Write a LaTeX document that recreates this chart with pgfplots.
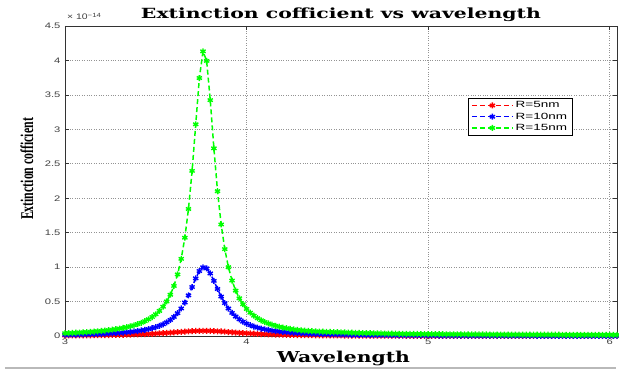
\documentclass[border=0pt]{standalone}
\usepackage{fontspec}
\setmainfont{Liberation Sans}
\newfontfamily\titlefont{DejaVu Serif}
\newfontfamily\ylabfont{Liberation Serif}
\usepackage{graphicx}
\usepackage{pgfplots}
\usepackage{pgfplotstable}
\pgfplotsset{compat=1.18}

\pgfplotstableread{
x g b r
3.00 0.0406 0.0175 0.00724
3.02 0.0427 0.0184 0.00759
3.04 0.0451 0.0194 0.00797
3.06 0.0477 0.0205 0.00838
3.08 0.0505 0.0217 0.00882
3.10 0.0535 0.0230 0.00929
3.12 0.0568 0.0244 0.00980
3.14 0.0605 0.0259 0.01034
3.16 0.0645 0.0276 0.01094
3.18 0.0689 0.0295 0.01158
3.20 0.0738 0.0316 0.01228
3.22 0.0792 0.0338 0.01304
3.24 0.0852 0.0364 0.01386
3.26 0.0919 0.0392 0.01476
3.28 0.0995 0.0424 0.01575
3.30 0.1080 0.0459 0.01682
3.32 0.1176 0.0499 0.01799
3.34 0.1286 0.0545 0.01928
3.36 0.1412 0.0597 0.02070
3.38 0.1557 0.0656 0.02225
3.40 0.1725 0.0725 0.02395
3.42 0.1920 0.0804 0.02583
3.44 0.2151 0.0897 0.02788
3.46 0.2427 0.1006 0.03014
3.48 0.2756 0.1136 0.03262
3.50 0.3154 0.1291 0.03533
3.52 0.3643 0.1478 0.03827
3.54 0.4250 0.1705 0.04144
3.56 0.5014 0.1985 0.04486
3.58 0.5993 0.2333 0.04846
3.60 0.7264 0.2767 0.05224
3.62 0.8944 0.3312 0.05612
3.64 1.1200 0.4000 0.06000
3.66 1.4270 0.4862 0.06375
3.68 1.8440 0.5901 0.06723
3.70 2.3970 0.7112 0.07025
3.72 3.0730 0.8371 0.07265
3.74 3.7450 0.9433 0.07426
3.76 4.1320 0.9976 0.07497
3.78 3.9940 0.9817 0.07473
3.80 3.4240 0.9081 0.07356
3.82 2.7240 0.8000 0.07154
3.84 2.1020 0.6826 0.06881
3.86 1.6190 0.5728 0.06554
3.88 1.2610 0.4778 0.06190
3.90 0.9988 0.3990 0.05807
3.92 0.8044 0.3350 0.05418
3.94 0.6585 0.2832 0.05034
3.96 0.5473 0.2414 0.04663
3.98 0.4610 0.2075 0.04311
4.00 0.3930 0.1797 0.03982
4.02 0.3385 0.1569 0.03676
4.04 0.2945 0.1379 0.03394
4.06 0.2583 0.1221 0.03135
4.08 0.2283 0.1087 0.02898
4.10 0.2031 0.0973 0.02682
4.12 0.1819 0.0876 0.02486
4.14 0.1637 0.0792 0.02308
4.16 0.1482 0.0720 0.02145
4.18 0.1347 0.0657 0.01997
4.20 0.1229 0.0601 0.01862
4.22 0.1127 0.0552 0.01739
4.24 0.1036 0.0509 0.01627
4.26 0.0956 0.0471 0.01524
4.28 0.0885 0.0436 0.01430
4.30 0.0821 0.0406 0.01344
4.32 0.0776 0.0378 0.01265
4.34 0.0737 0.0353 0.01192
4.36 0.0702 0.0330 0.01125
4.38 0.0672 0.0310 0.01064
4.40 0.0646 0.0291 0.01007
4.42 0.0623 0.0274 0.00954
4.44 0.0604 0.0259 0.00905
4.46 0.0586 0.0244 0.00859
4.48 0.0572 0.0231 0.00817
4.50 0.0559 0.0219 0.00778
4.52 0.0536 0.0208 0.00741
4.54 0.0515 0.0198 0.00707
4.56 0.0495 0.0188 0.00675
4.58 0.0477 0.0179 0.00645
4.60 0.0461 0.0171 0.00617
4.62 0.0445 0.0163 0.00591
4.64 0.0430 0.0156 0.00566
4.66 0.0417 0.0149 0.00543
4.68 0.0404 0.0142 0.00521
4.70 0.0392 0.0137 0.00500
4.72 0.0381 0.0131 0.00481
4.74 0.0370 0.0126 0.00463
4.76 0.0360 0.0121 0.00445
4.78 0.0351 0.0116 0.00429
4.80 0.0342 0.0112 0.00413
4.82 0.0333 0.0108 0.00399
4.84 0.0325 0.0104 0.00385
4.86 0.0318 0.0100 0.00372
4.88 0.0311 0.0096 0.00359
4.90 0.0304 0.0093 0.00347
4.92 0.0298 0.0090 0.00336
4.94 0.0292 0.0087 0.00325
4.96 0.0286 0.0084 0.00314
4.98 0.0281 0.0081 0.00305
5.00 0.0276 0.0079 0.00295
5.02 0.0271 0.0076 0.00286
5.04 0.0266 0.0074 0.00278
5.06 0.0262 0.0072 0.00270
5.08 0.0258 0.0069 0.00262
5.10 0.0253 0.0067 0.00254
5.12 0.0250 0.0065 0.00247
5.14 0.0246 0.0064 0.00240
5.16 0.0242 0.0062 0.00233
5.18 0.0239 0.0060 0.00227
5.20 0.0235 0.0058 0.00221
5.22 0.0232 0.0057 0.00215
5.24 0.0229 0.0055 0.00209
5.26 0.0226 0.0054 0.00204
5.28 0.0223 0.0052 0.00199
5.30 0.0221 0.0051 0.00194
5.32 0.0218 0.0050 0.00189
5.34 0.0216 0.0049 0.00184
5.36 0.0213 0.0047 0.00180
5.38 0.0211 0.0046 0.00176
5.40 0.0209 0.0045 0.00171
5.42 0.0207 0.0044 0.00167
5.44 0.0204 0.0043 0.00163
5.46 0.0202 0.0042 0.00160
5.48 0.0200 0.0041 0.00156
5.50 0.0199 0.0040 0.00153
5.52 0.0197 0.0039 0.00149
5.54 0.0195 0.0038 0.00146
5.56 0.0193 0.0037 0.00143
5.58 0.0192 0.0037 0.00140
5.60 0.0190 0.0036 0.00137
5.62 0.0189 0.0035 0.00134
5.64 0.0187 0.0034 0.00131
5.66 0.0186 0.0034 0.00128
5.68 0.0184 0.0033 0.00126
5.70 0.0183 0.0032 0.00123
5.72 0.0182 0.0032 0.00121
5.74 0.0180 0.0031 0.00118
5.76 0.0179 0.0030 0.00116
5.78 0.0178 0.0030 0.00114
5.80 0.0177 0.0029 0.00112
5.82 0.0176 0.0029 0.00109
5.84 0.0175 0.0028 0.00107
5.86 0.0174 0.0027 0.00105
5.88 0.0173 0.0027 0.00103
5.90 0.0172 0.0026 0.00101
5.92 0.0171 0.0026 0.00100
5.94 0.0170 0.0026 0.00098
5.96 0.0169 0.0025 0.00096
5.98 0.0168 0.0025 0.00094
6.00 0.0167 0.0024 0.00093
6.02 0.0166 0.0024 0.00091
6.04 0.0165 0.0023 0.00089
}\datatable

\begin{document}
\begin{tikzpicture}
\begin{axis}[
  at={(0pt,0pt)}, anchor=south west,
  width=552pt, height=310pt, scale only axis,
  xmin=3, xmax=6.04, ymin=0, ymax=4.5,
  xtick={3,4,5,6},
  ytick={0,0.5,1,1.5,2,2.5,3,3.5,4,4.5},
  scaled y ticks=false,
  tick align=inside, tick pos=both, major tick length=4pt,
  grid=major,
  major grid style={dotted, gray!85, line width=0.6pt},
  axis line style={black!80, line width=0.6pt},
  tick style={black!80, line width=0.6pt},
  ticklabel style={font=\fontsize{8}{9}\selectfont, text=black!75},
  yticklabel={\scalebox{1.4}[1]{\pgfmathprintnumber{\tick}}},
  xticklabel={\scalebox{1.4}[1]{\pgfmathprintnumber{\tick}}},
  xticklabel style={yshift=1pt},
  yticklabel style={xshift=-1pt},
  /pgf/number format/assume math mode=true,
  clip=false,
  legend style={at={(0.73,0.768)}, anchor=north west, draw=black,
    font=\fontsize{9}{10}\selectfont, inner xsep=3pt, inner ysep=1.5pt, row sep=-0.5pt},
  legend cell align=left,
  legend image code/.code={%
    \draw[mark repeat=2, mark phase=2, #1, line width=1.5pt] plot coordinates {(0cm,0cm) (0.72cm,0cm) (1.44cm,0cm)};},
  every axis plot/.append style={dashed, dash pattern=on 5pt off 3pt, line width=1.5pt,
    mark=asterisk, mark size=3pt, mark options={solid, line width=1.4pt}},
]
\addplot[red] table[x=x, y=r] {\datatable};
\addlegendentry{\scalebox{1.5}[1]{R=5nm}}
\addplot[blue] table[x=x, y=b] {\datatable};
\addlegendentry{\scalebox{1.5}[1]{R=10nm}}
\addplot[green] table[x=x, y=g] {\datatable};
\addlegendentry{\scalebox{1.5}[1]{R=15nm}}
\end{axis}
\draw[gray!55, line width=1.2pt] (-60pt,-32pt) -- (551pt,-32pt);
\node[anchor=base] at (276pt,317pt) {\resizebox{400pt}{\height}{\titlefont\bfseries\fontsize{14}{16}\selectfont Extinction cofficient vs wavelength}};
\node[anchor=base] at (278.5pt,-26pt) {\resizebox{133pt}{\height}{\titlefont\bfseries\fontsize{15}{17}\selectfont Wavelength}};
\node[anchor=base, rotate=90] at (-32pt,167pt) {\resizebox{102pt}{\height}{\ylabfont\bfseries\fontsize{18}{20}\selectfont Extinction cofficient}};
\node[anchor=base west, font=\fontsize{8}{9}\selectfont, text=black!75, inner sep=0pt] at (2pt,316pt) {\scalebox{1.3}[1]{× 10\textsuperscript{−14}}};
\pgfresetboundingbox
\path[use as bounding box] (-65pt,-34pt) rectangle (554pt,336pt);
\end{tikzpicture}
\end{document}
